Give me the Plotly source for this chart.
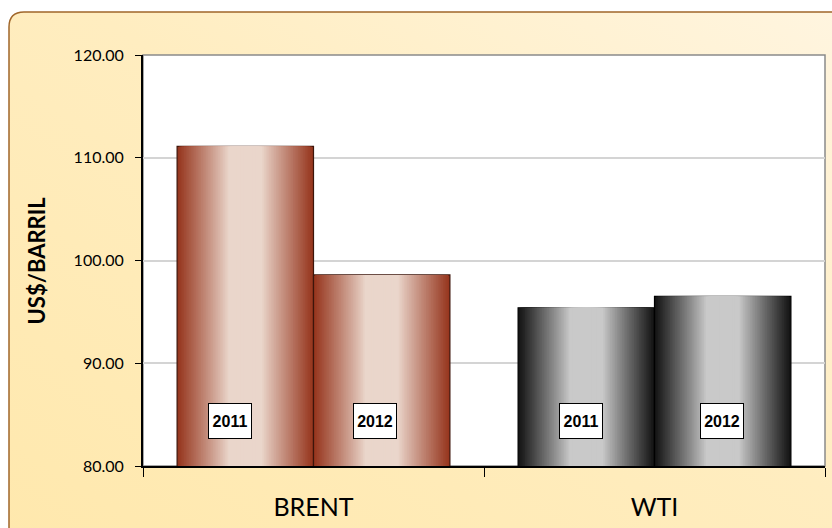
import base64
import plotly.graph_objects as go

# ---------------- data ----------------
categories = ["BRENT", "WTI"]
years = ["2011", "2012"]
values_2011 = [111.1, 95.4]
values_2012 = [98.6, 96.5]
series = {"2011": values_2011, "2012": values_2012}
y_ticks = [80, 90, 100, 110, 120]

# ---------------- styling ----------------
W, H = 832, 528
L, R, T, B = 143, 7, 55, 62
PW, PH = W - L - R, H - T - B

bar_w = 0.4                      # width of one bar (category units)
centers = {"2011": -0.2, "2012": 0.2}
edge_cols = {"BRENT": (0x96, 0x36, 0x1E), "WTI": (0x14, 0x14, 0x14)}
mid_cols = {"BRENT": (0xEA, 0xD6, 0xCB), "WTI": (0xC9, 0xC9, 0xC9)}
outline_cols = {"BRENT": "#3C150A", "WTI": "#000000"}
label_xshift = {("BRENT", "2011"): -15, ("BRENT", "2012"): -7,
                ("WTI", "2011"): -5, ("WTI", "2012"): -1}
LABEL_Y = 84.4
N_LAYERS = 40


def mix(c1, c2, t):
    return "rgb(%d,%d,%d)" % tuple(round(a + (b - a) * t) for a, b in zip(c1, c2))


def darkness(s):
    t = (s - 0.25) / 0.75
    t = max(0.0, min(1.0, t))
    return t ** 0.95


fig = go.Figure()

for yr in years:
    vals = series[yr]
    for k in range(N_LAYERS):
        s = 1 - k / N_LAYERS
        w = bar_w * s
        d = darkness(s)
        cols = [mix(mid_cols[c], edge_cols[c], d) for c in categories]
        outer = (k == 0)
        fig.add_trace(go.Bar(
            x=categories, y=vals,
            width=[w] * len(categories),
            offset=[centers[yr] - w / 2] * len(categories),
            marker=dict(color=cols,
                        line=dict(width=1.2 if outer else 0,
                                  color=[outline_cols[c] for c in categories])),
            hoverinfo="skip" if not outer else None,
            name=yr, showlegend=False,
        ))

# year labels
for i, cat in enumerate(categories):
    for yr in years:
        fig.add_annotation(
            x=i + centers[yr], y=LABEL_Y, xref="x", yref="y",
            text="<b>%s</b>" % yr, showarrow=False,
            xshift=label_xshift[(cat, yr)],
            font=dict(family="Liberation Sans, Arial", size=16, color="#000"),
            bgcolor="white", bordercolor="#000", borderwidth=1,
            borderpad=3, width=36, height=28,
        )

# y-axis title
fig.add_annotation(
    x=-(L - 36) / PW, y=0.5, xref="paper", yref="paper",
    xanchor="center", yanchor="middle",
    text="<b>US$/BARRIL</b>", textangle=-90, showarrow=False,
    font=dict(family="Lato, Noto Sans", size=22, color="#000"),
)

# background frame (gradient) as svg image
svg = f'''<svg xmlns="http://www.w3.org/2000/svg" width="{W}" height="{H}" viewBox="0 0 {W} {H}" preserveAspectRatio="none">
<defs><linearGradient id="g" x1="0" y1="1" x2="1" y2="0">
<stop offset="0" stop-color="#FFE8AC"/><stop offset="0.55" stop-color="#FFEDC0"/><stop offset="1" stop-color="#FFF5E0"/>
</linearGradient></defs>
<path d="M9 {12+15} Q9 12 {9+15} 12 L850 12 L850 560 L9 560 Z" fill="url(#g)" stroke="#A0662A" stroke-width="1.5"/>
</svg>'''
uri = "data:image/svg+xml;base64," + base64.b64encode(svg.encode()).decode()
fig.add_layout_image(
    source=uri, xref="paper", yref="paper",
    x=-L / PW, y=1 + T / PH, sizex=W / PW, sizey=H / PH,
    xanchor="left", yanchor="top", sizing="stretch", layer="below",
)

# white plot area with grey frame
fig.add_shape(type="rect", xref="paper", yref="paper", x0=0, x1=1, y0=0, y1=1,
              fillcolor="white", line=dict(color="#8A8A8A", width=1.5), layer="below")

fig.update_layout(
    width=W, height=H,
    margin=dict(l=L, r=R, t=T, b=B),
    paper_bgcolor="white", plot_bgcolor="rgba(0,0,0,0)",
    barmode="overlay", showlegend=False,
    font=dict(family="Lato, Noto Sans", color="#000"),
)
fig.update_xaxes(
    type="category", range=[-0.5, 1.5],
    showline=True, linecolor="#000", linewidth=2,
    ticks="outside", tickson="boundaries", ticklen=9, tickcolor="#000", tickwidth=1,
    tickfont=dict(family="Lato, Noto Sans", size=25, color="#000"),
    ticklabelstandoff=18, showgrid=False, zeroline=False,
)
fig.update_yaxes(
    range=[80, 120], tickvals=y_ticks, tickformat=".2f",
    showline=True, linecolor="#000", linewidth=2,
    ticks="outside", ticklen=6, tickcolor="#000", tickwidth=1,
    tickfont=dict(family="Lato, Noto Sans", size=16, color="#000"),
    ticklabelstandoff=8,
    showgrid=True, gridcolor="#D4D4D4", gridwidth=1.5, zeroline=False,
)

fig.write_html("out.html", config={"displayModeBar": False},
               post_script="document.body.style.margin='0';document.body.style.overflow='hidden';")
